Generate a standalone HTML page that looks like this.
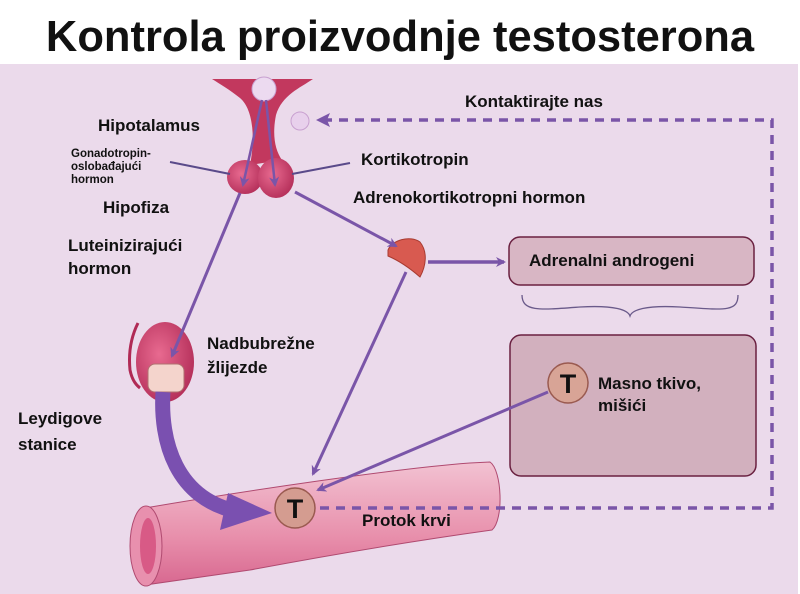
<!DOCTYPE html>
<html><head><meta charset="utf-8"><style>
html,body{margin:0;padding:0;background:#fff}
svg{display:block}
text{font-family:"Liberation Sans",Arial,sans-serif;font-weight:bold;fill:#111}
</style></head><body>
<svg width="800" height="594" viewBox="0 0 800 594" xmlns="http://www.w3.org/2000/svg">
<defs>
<marker id="ah" markerWidth="10" markerHeight="10" refX="8" refY="5" orient="auto" markerUnits="userSpaceOnUse">
<path d="M0,0 L10,5 L0,10 L3,5 Z" fill="#7a55a8"/></marker>
<linearGradient id="vg" x1="0" y1="0" x2="0" y2="1"><stop offset="0" stop-color="#f2c2d2"/><stop offset="0.6" stop-color="#e890ac"/><stop offset="1" stop-color="#d86890"/></linearGradient>
<radialGradient id="pg" cx="0.4" cy="0.4" r="0.7"><stop offset="0" stop-color="#e86a90"/><stop offset="1" stop-color="#b02a55"/></radialGradient>
</defs>
<rect x="0" y="0" width="800" height="64" fill="#fff"/>
<rect x="0" y="64" width="798" height="530" fill="#ebdaeb"/>
<text x="400" y="51" font-size="43.5" text-anchor="middle">Kontrola proizvodnje testosterona</text>

<!-- hypothalamus -->
<path d="M212,79 H313 C300,88 282,95 276,115 C272,135 275,150 282,160 L250,165 C255,140 254,110 240,98 C230,90 220,84 212,79 Z" fill="#c2385e"/>
<ellipse cx="245" cy="177" rx="18" ry="17" fill="url(#pg)"/>
<ellipse cx="276" cy="178" rx="18" ry="20" fill="url(#pg)"/>
<circle cx="300" cy="121" r="9" fill="#e8d0ec" stroke="#c8a0d0"/>
<circle cx="264" cy="89" r="12" fill="#ecdaf0" stroke="#c8a0d0"/>
<line x1="262" y1="100" x2="243" y2="185" stroke="#7a55a8" stroke-width="2.5" marker-end="url(#ah)"/>
<line x1="266" y1="100" x2="275" y2="185" stroke="#7a55a8" stroke-width="2.5" marker-end="url(#ah)"/>

<!-- label lines -->
<line x1="170" y1="162" x2="230" y2="174" stroke="#5a4a8a" stroke-width="2"/>
<line x1="292" y1="174" x2="350" y2="163" stroke="#5a4a8a" stroke-width="2"/>

<!-- vessel -->
<path d="M145,508 C250,490 400,468 470,463 L490,462 C502,470 504,520 492,530 C420,540 330,555 250,570 L145,585 Z" fill="url(#vg)" stroke="#b04a70" stroke-width="1"/>
<ellipse cx="146" cy="546" rx="16" ry="40" fill="#e890ae" stroke="#b04a70"/>
<ellipse cx="148" cy="546" rx="8" ry="28" fill="#d85a86"/>

<!-- dashed feedback -->
<path d="M323,120 H772 V508 H318" fill="none" stroke="#7a55a8" stroke-width="3.5" stroke-dasharray="9,7"/>
<path d="M316,120 L330,113 L327,120 L330,127 Z" fill="#7a55a8"/>

<!-- adrenal gland -->
<path d="M388,250 C392,240 410,235 420,242 C428,252 426,266 420,277 C412,270 402,262 388,256 Z" fill="#d85a50" stroke="#a83a30"/>

<!-- boxes -->
<rect x="509" y="237" width="245" height="48" rx="11" fill="#d8b6c4" stroke="#6a2040" stroke-width="1.5"/>
<path d="M522,295 C522,312 540,310 580,307 C615,305 628,310 630,316 C632,310 645,305 680,307 C725,310 738,312 738,295" fill="none" stroke="#6a5a8a" stroke-width="1.3"/>
<rect x="510" y="335" width="246" height="141" rx="11" fill="#d2b0be" stroke="#6a2040" stroke-width="1.5"/>

<!-- arrows -->
<line x1="295" y1="192" x2="396" y2="246" stroke="#7a55a8" stroke-width="3" marker-end="url(#ah)"/>
<line x1="428" y1="262" x2="504" y2="262" stroke="#7a55a8" stroke-width="3.5" marker-end="url(#ah)"/>
<line x1="406" y1="272" x2="313" y2="474" stroke="#7a55a8" stroke-width="3" marker-end="url(#ah)"/>
<line x1="548" y1="392" x2="318" y2="490" stroke="#7a55a8" stroke-width="3" marker-end="url(#ah)"/>

<!-- testis -->
<path d="M138,323 C132,335 128,350 130,370 C132,380 136,385 140,388" fill="none" stroke="#b02a55" stroke-width="3"/>
<ellipse cx="165" cy="362" rx="29" ry="40" fill="url(#pg)"/>
<line x1="240" y1="193" x2="172" y2="356" stroke="#7a55a8" stroke-width="3" marker-end="url(#ah)"/>
<rect x="148" y="364" width="36" height="28" rx="7" fill="#f4d4cc" stroke="#b07070"/>
<!-- thick arrow -->
<path d="M163,392 C160,440 175,500 240,512" fill="none" stroke="#7a50b0" stroke-width="15"/>
<path d="M228,493 L272,513 L220,530 Z" fill="#7a50b0"/>

<!-- T circles -->
<circle cx="295" cy="508" r="20" fill="#d49c90" stroke="#9a5a50" stroke-width="1.5"/>
<text x="295" y="518" font-size="27" font-weight="normal" text-anchor="middle">T</text>
<circle cx="568" cy="383" r="20" fill="#d8a496" stroke="#9a5a50" stroke-width="1.5"/>
<text x="568" y="393" font-size="27" font-weight="normal" text-anchor="middle">T</text>

<!-- labels -->
<text x="98" y="131" font-size="17">Hipotalamus</text>
<text x="71" y="157" font-size="11.5" font-weight="normal">Gonadotropin-</text>
<text x="71" y="170" font-size="11.5" font-weight="normal">oslobađajući</text>
<text x="71" y="183" font-size="11.5" font-weight="normal">hormon</text>
<text x="103" y="213" font-size="17">Hipofiza</text>
<text x="68" y="251" font-size="17">Luteinizirajući</text>
<text x="68" y="274" font-size="17">hormon</text>
<text x="361" y="165" font-size="17">Kortikotropin</text>
<text x="353" y="203" font-size="17">Adrenokortikotropni hormon</text>
<text x="465" y="107" font-size="17">Kontaktirajte nas</text>
<text x="529" y="266" font-size="17">Adrenalni androgeni</text>
<text x="598" y="389" font-size="17">Masno tkivo,</text>
<text x="598" y="411" font-size="17">mišići</text>
<text x="207" y="349" font-size="17">Nadbubrežne</text>
<text x="207" y="373" font-size="17">žlijezde</text>
<text x="18" y="424" font-size="17">Leydigove</text>
<text x="18" y="450" font-size="17">stanice</text>
<text x="362" y="526" font-size="17">Protok krvi</text>
</svg>
</body></html>
